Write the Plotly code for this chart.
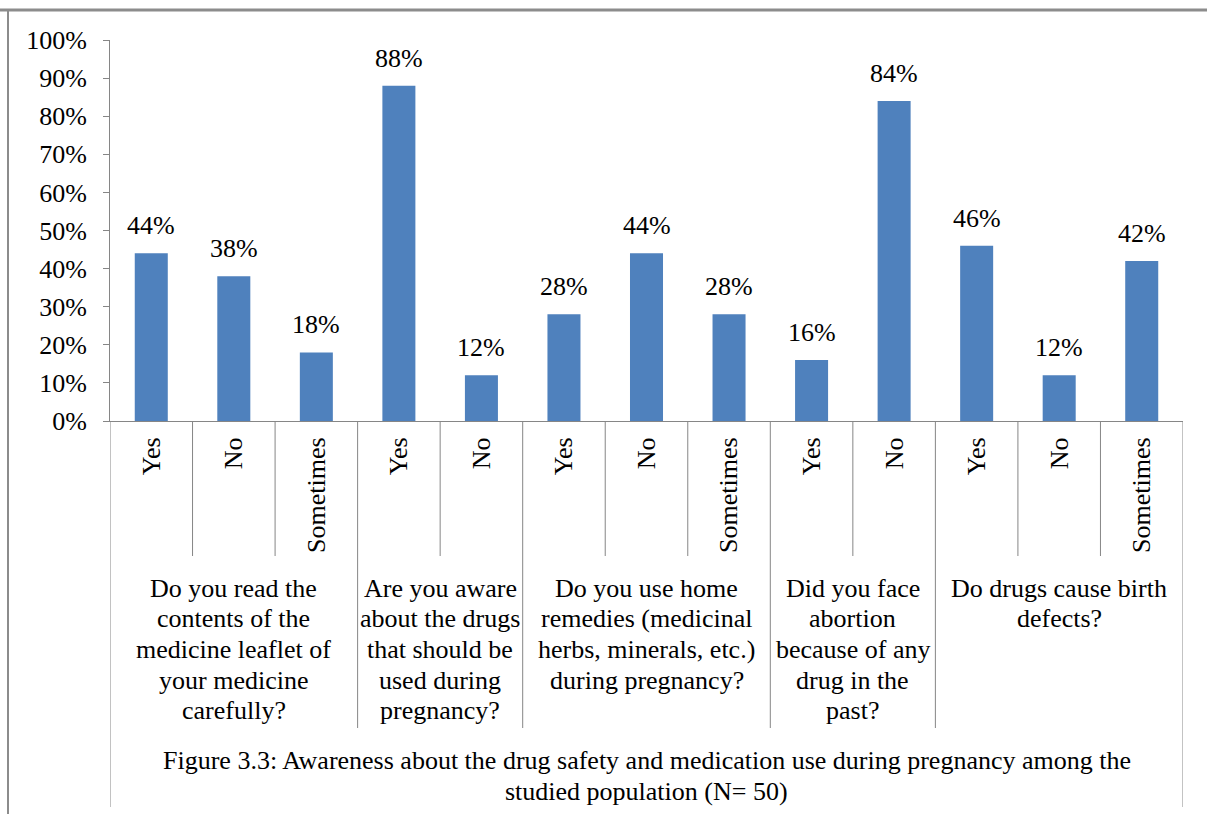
import plotly.graph_objects as go

# Survey answers, grouped by question
questions = [
    "Do you read the<br>contents of the<br>medicine leaflet of<br>your medicine<br>carefully?",
    "Are you aware<br>about the drugs<br>that should be<br>used during<br>pregnancy?",
    "Do you use home<br>remedies (medicinal<br>herbs, minerals, etc.)<br>during pregnancy?",
    "Did you face<br>abortion<br>because of any<br>drug in the<br>past?",
    "Do drugs cause birth<br>defects?",
]
answers = [
    ["Yes", "No", "Sometimes"],
    ["Yes", "No"],
    ["Yes", "No", "Sometimes"],
    ["Yes", "No"],
    ["Yes", "No", "Sometimes"],
]
percentages = [
    [44, 38, 18],
    [88, 12],
    [28, 44, 28],
    [16, 84],
    [46, 12, 42],
]
y_ticks = [0, 10, 20, 30, 40, 50, 60, 70, 80, 90, 100]
caption = ("Figure 3.3: Awareness about the drug safety and medication use during pregnancy among the"
           "<br>studied population (N= 50)")

labels = [a for grp in answers for a in grp]
values = [v for grp in percentages for v in grp]
xs = list(range(len(labels)))

W, H = 1207, 814
L, R, T, B = 110, 24, 40, 393
plot_h = H - T - B
plot_w = W - L - R


def py(pix):
    """Pixel row -> paper y."""
    return (H - B - pix) / plot_h


def px(pix):
    """Pixel column -> paper x."""
    return (pix - L) / plot_w


FONT = "Liberation Serif"
SIZE = 26
LINE_STEP = 30.7
BAR = "#4F81BD"
LINE = "#868686"
TXT = dict(family=FONT, size=SIZE, color="black")

fig = go.Figure()
fig.add_trace(go.Bar(x=xs, y=values, marker=dict(color=BAR, line=dict(width=0)),
                     width=0.4, showlegend=False, hoverinfo="skip"))

annotations = []
# value labels above the bars
for x, v in zip(xs, values):
    annotations.append(dict(x=x, y=v, xref="x", yref="y", text=f"{v}%", showarrow=False,
                            yanchor="bottom", yshift=11, font=TXT))

shapes = []
# separators between answers and between question groups, plus question text
start = 0
for gi, grp in enumerate(answers):
    n = len(grp)
    for k in range(1, n):
        shapes.append(dict(type="line", xref="x", yref="paper", x0=start + k - 0.5, x1=start + k - 0.5,
                           y0=0, y1=py(556), line=dict(color=LINE, width=1)))
    end = start + n
    if gi < len(answers) - 1:
        shapes.append(dict(type="line", xref="x", yref="paper", x0=end - 0.5, x1=end - 0.5,
                           y0=0, y1=py(728), line=dict(color=LINE, width=1)))
    for li, line in enumerate(questions[gi].split("<br>")):
        annotations.append(dict(x=(start + end - 1) / 2, y=py(588 + li * LINE_STEP), xref="x",
                                yref="paper", text=line, showarrow=False, yanchor="middle",
                                xanchor="center", font=TXT))
    start = end

# outer box of the category area
shapes.append(dict(type="line", xref="x", yref="paper", x0=-0.5, x1=-0.5, y0=0, y1=py(807),
                   line=dict(color=LINE, width=1)))
shapes.append(dict(type="line", xref="x", yref="paper", x0=len(xs) - 0.5, x1=len(xs) - 0.5,
                   y0=0, y1=py(807), line=dict(color=LINE, width=1)))
# page frame
shapes.append(dict(type="line", xref="paper", yref="paper", x0=px(0), x1=px(W), y0=py(10), y1=py(10),
                   line=dict(color="#8C8C8C", width=3)))
shapes.append(dict(type="line", xref="paper", yref="paper", x0=px(8), x1=px(8), y0=py(9), y1=py(H),
                   line=dict(color="#8C8C8C", width=2)))

# figure caption
for li, line in enumerate(caption.split("<br>")):
    annotations.append(dict(x=0.5, y=py(760 + li * 31), xref="paper", yref="paper", text=line,
                            showarrow=False, yanchor="middle", xanchor="center", font=TXT))

fig.update_layout(
    width=W, height=H,
    margin=dict(l=L, r=R, t=T, b=B, autoexpand=False),
    paper_bgcolor="white", plot_bgcolor="white",
    bargap=0.6,
    font=dict(family=FONT, color="black"),
    shapes=shapes, annotations=annotations,
    xaxis=dict(range=[-0.5, len(xs) - 0.5], tickmode="array", tickvals=xs, ticktext=labels,
               tickangle=-90, showgrid=False, zeroline=False, showline=True, linecolor=LINE,
               linewidth=1, ticks="", ticklabelstandoff=5, tickfont=TXT),
    yaxis=dict(range=[0, 100], tickmode="array", tickvals=y_ticks,
               ticktext=[f"{t}%" for t in y_ticks], showgrid=False, zeroline=False,
               showline=True, linecolor=LINE, linewidth=1, ticks="outside", ticklen=6,
               tickcolor=LINE, ticklabelstandoff=11, tickfont=TXT),
)

fig.write_html("out.html")
